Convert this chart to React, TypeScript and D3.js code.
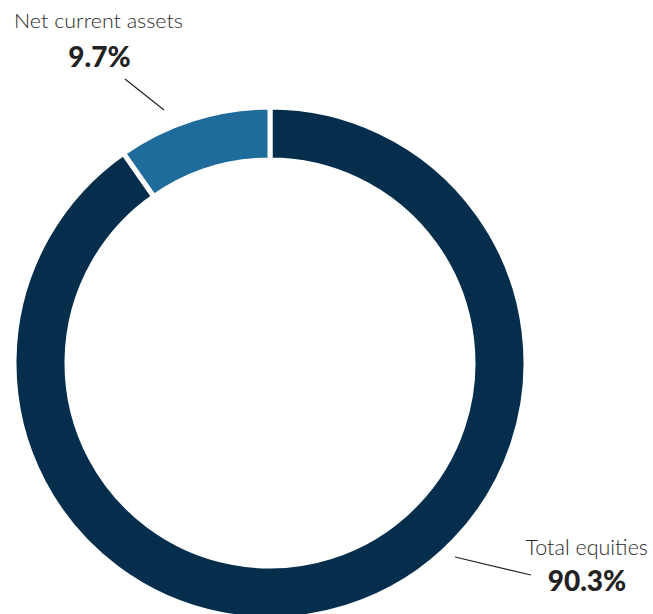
import React from "react";
import * as d3 from "d3";

const categories = ["Total equities", "Net current assets"];
const values = [90.3, 9.7];
const valueLabels = ["90.3%", "9.7%"];
const colors = ["#052e4d", "#1f6c9c"];

export default function App() {
  const W = 653, H = 614;
  const cx = 270, cy = 363, rOuter = 256, rInner = 203;
  const total = d3.sum(values);
  const angle = d3.scaleLinear().domain([0, total]).range([0, 2 * Math.PI]);
  const arc = d3.arc<any>().innerRadius(rInner).outerRadius(rOuter);
  const slices = [
    { start: 0, end: angle(values[0]), color: colors[0] },
    { start: angle(values[0]), end: 2 * Math.PI, color: colors[1] },
  ];
  return (
    <svg width={W} height={H} style={{ position: "absolute", left: 0, top: 0 }}>
      <g transform={`translate(${cx},${cy})`}>
        {slices.map((s, i) => (
          <path key={i} d={arc({ startAngle: s.start, endAngle: s.end }) as string} fill={s.color} stroke="#fff" strokeWidth={5} />
        ))}
      </g>
      <line x1={125} y1={79} x2={164} y2={110} stroke="#222" strokeWidth={1.2} />
      <line x1={455} y1={557} x2={531} y2={575} stroke="#222" strokeWidth={1.2} />
      <text x={14} y={28} fontFamily="Lato" fontWeight={300} textLength={169} lengthAdjust="spacingAndGlyphs" fontSize={20.5} fill="#2a2a2a">{categories[1]}</text>
      <text x={99.5} y={67} textAnchor="middle" fontFamily="Lato" fontWeight={900} fontSize={28} fill="#222">{valueLabels[1]}</text>
      <text x={648} y={555} textAnchor="end" fontFamily="Lato" fontWeight={300} fontSize={21.5} fill="#2a2a2a">{categories[0]}</text>
      <text x={587} y={591} textAnchor="middle" fontFamily="Lato" fontWeight={900} fontSize={28} fill="#222">{valueLabels[0]}</text>
    </svg>
  );
}
